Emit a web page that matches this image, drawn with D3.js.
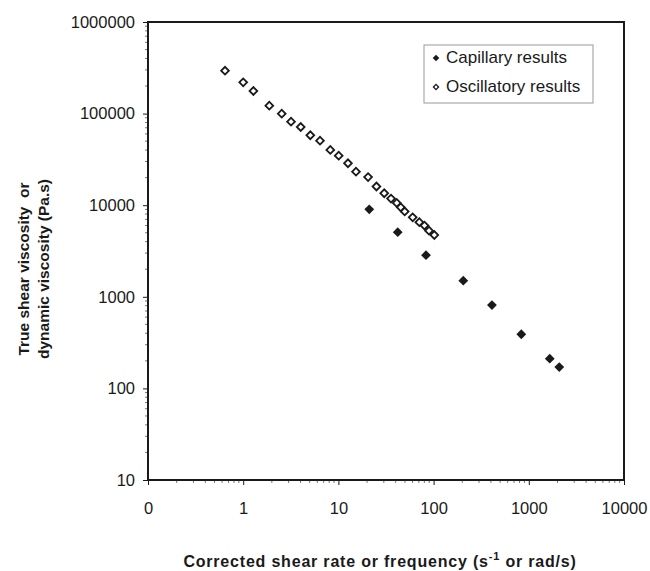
<!DOCTYPE html>
<html>
<head>
<meta charset="utf-8">
<script src="https://cdn.jsdelivr.net/npm/d3@7"></script>
<style>
  html, body { margin: 0; padding: 0; background: #fff; }
  svg { display: block; font-family: Arial, "Liberation Sans", sans-serif; }
</style>
</head>
<body>
<svg id="chart" width="650" height="571"></svg>
<script>
// Data
const oscRate = [0.644, 1.0, 1.28, 1.88, 2.54, 3.18, 4.02, 5.07, 6.41, 8.22, 10.07, 12.6, 15.3, 20.5, 25.1, 30.3, 35.7, 41.0, 45.2, 49.7, 60.3, 70.8, 80.2, 89.5, 101.7];
const oscVisc = [293800, 219600, 176500, 122000, 99800, 81600, 71400, 58000, 50600, 40100, 34700, 28700, 23200, 20300, 16000, 13500, 11800, 10600, 9490, 8540, 7380, 6520, 6000, 5270, 4730];
const capRate = [21.1, 42.0, 83.2, 205, 410, 834, 1660, 2090];
const capVisc = [9020, 5070, 2850, 1500, 813, 390, 211, 171];
const xTickValues = [0.1, 1, 10, 100, 1000, 10000];
const xTickLabels = ["0", "1", "10", "100", "1000", "10000"];
const yTickValues = [10, 100, 1000, 10000, 100000, 1000000];
const yTickLabels = ["10", "100", "1000", "10000", "100000", "1000000"];
const seriesNames = ["Capillary results", "Oscillatory results"];

const svg = d3.select("#chart");
const L = 148, R = 624, T = 22, B = 480;
const x = d3.scaleLog().domain([0.1, 10000]).range([L, R]);
const y = d3.scaleLog().domain([10, 1000000]).range([B, T]);
const ink = "#1a1a1a";

// minor ticks
const minorX = [];
for (let e = -1; e < 4; e++) for (let m = 2; m <= 9; m++) minorX.push(m * Math.pow(10, e));
const minorY = [];
for (let e = 1; e < 6; e++) for (let m = 2; m <= 9; m++) minorY.push(m * Math.pow(10, e));

svg.append("g").selectAll("line").data(minorX).join("line")
  .attr("x1", d => x(d)).attr("x2", d => x(d))
  .attr("y1", B).attr("y2", B + 3)
  .attr("stroke", "#777").attr("stroke-width", 1);
svg.append("g").selectAll("line").data(minorY).join("line")
  .attr("y1", d => y(d)).attr("y2", d => y(d))
  .attr("x1", L - 3).attr("x2", L)
  .attr("stroke", "#777").attr("stroke-width", 1);

// axes with major ticks
const xAxis = d3.axisBottom(x).tickValues(xTickValues)
  .tickFormat((d, i) => xTickLabels[i]).tickSize(5).tickPadding(17);
const gx = svg.append("g").attr("transform", `translate(0,${B})`).call(xAxis);
gx.select(".domain").remove();
gx.selectAll("line").attr("stroke", ink);
gx.selectAll("text").attr("font-size", 16.5).attr("fill", ink)
  .attr("font-family", "Arial, 'Liberation Sans', sans-serif");

const yAxis = d3.axisLeft(y).tickValues(yTickValues)
  .tickFormat((d, i) => yTickLabels[i]).tickSize(5).tickPadding(8);
const gy = svg.append("g").attr("transform", `translate(${L},0)`).call(yAxis);
gy.select(".domain").remove();
gy.selectAll("line").attr("stroke", ink);
gy.selectAll("text").attr("font-size", 16.5).attr("fill", ink)
  .attr("font-family", "Arial, 'Liberation Sans', sans-serif");

// frame
svg.append("rect").attr("x", L).attr("y", T).attr("width", R - L).attr("height", B - T)
  .attr("fill", "none").attr("stroke", ink).attr("stroke-width", 2);

// markers
const filled = d3.symbol().type(d3.symbolSquare).size(48);
const open = d3.symbol().type(d3.symbolSquare).size(30);

const oscData = oscRate.map((r, i) => ({ r, v: oscVisc[i] }));
const capData = capRate.map((r, i) => ({ r, v: capVisc[i] }));

svg.append("g").selectAll("path").data(oscData).join("path")
  .attr("d", open)
  .attr("transform", d => `translate(${x(d.r)},${y(d.v)}) rotate(45)`)
  .attr("fill", "#fff").attr("stroke", ink).attr("stroke-width", 1.8);

svg.append("g").selectAll("path").data(capData).join("path")
  .attr("d", filled)
  .attr("transform", d => `translate(${x(d.r)},${y(d.v)}) rotate(45)`)
  .attr("fill", ink);

// legend
const lg = svg.append("g");
lg.append("rect").attr("x", 424).attr("y", 45).attr("width", 169).attr("height", 58)
  .attr("fill", "#fff").attr("stroke", "#999").attr("stroke-width", 1);
const legendItems = [
  { name: seriesNames[0], filled: true, yy: 63 },
  { name: seriesNames[1], filled: false, yy: 92 }
];
legendItems.forEach(it => {
  lg.append("path")
    .attr("d", d3.symbol().type(d3.symbolSquare).size(it.filled ? 22 : 13)())
    .attr("transform", `translate(436,${it.yy - 5}) rotate(45)`)
    .attr("fill", it.filled ? ink : "#fff")
    .attr("stroke", it.filled ? "none" : ink).attr("stroke-width", 1.3);
  lg.append("text").attr("x", 446).attr("y", it.yy)
    .attr("font-size", 17).attr("fill", ink).text(it.name);
});

// axis titles
const xt = svg.append("text").attr("x", 380).attr("y", 567)
  .attr("text-anchor", "middle").attr("font-size", 16).attr("font-weight", "bold")
  .attr("letter-spacing", 0.8).attr("fill", ink);
xt.append("tspan").text("Corrected shear rate or frequency (s");
xt.append("tspan").attr("dy", -7).attr("font-size", 11).text("-1");
xt.append("tspan").attr("dy", 7).text(" or rad/s)");

const yt = svg.append("text").attr("transform", "translate(0,269) rotate(-90)")
  .attr("text-anchor", "middle").attr("font-size", 15.5).attr("font-weight", "bold").attr("fill", ink);
yt.append("tspan").attr("x", 0).attr("y", 29).text("True shear viscosity\u00a0 or");
yt.append("tspan").attr("x", 0).attr("y", 49).text("dynamic viscosity (Pa.s)");
</script>
</body>
</html>
